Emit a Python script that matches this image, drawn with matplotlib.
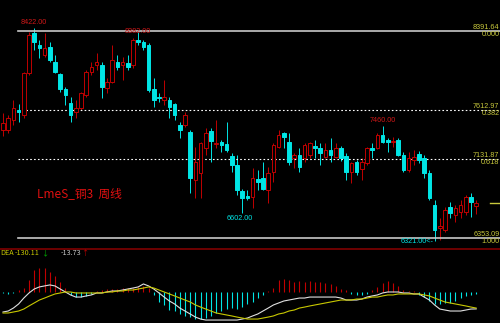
import matplotlib.pyplot as plt
from matplotlib.transforms import blended_transform_factory

plt.rcParams['font.family'] = ['Noto Sans CJK SC', 'DejaVu Sans']

# weekly OHLC, LME copper
opens = [7417, 7417, 7515, 7614, 7564, 7978, 8372, 8254, 8155, 8234,
         8086, 7968, 7820, 7682, 7594, 7633, 7761, 7988, 8057, 8057,
         7830, 7889, 8086, 8057, 8076, 8057, 8303, 8283, 8254, 7820,
         7742, 7712, 7712, 7673, 7466, 7466, 7397, 6924, 6993, 7239,
         7407, 7279, 7298, 7279, 7160, 7072, 6816, 6766, 6756, 6934,
         6944, 6825, 7003, 7249, 7387, 7298, 7141, 7170, 7141, 7170,
         7259, 7239, 7150, 7219, 7150, 7239, 7160, 7003, 7101, 7032,
         7091, 7239, 7239, 7367, 7318, 7298, 7318, 7170, 7022, 7121,
         7180, 7141, 6993, 6678, 6451, 6431, 6658, 6579, 6609, 6609,
         6756, 6668]
closes = [7485, 7535, 7633, 7594, 7978, 8352, 8283, 8224, 8224, 8106,
          7988, 7820, 7761, 7564, 7633, 7781, 7988, 8037, 8086, 7840,
          7889, 8106, 8037, 8086, 8037, 8303, 8283, 8234, 7810, 7712,
          7732, 7742, 7643, 7564, 7417, 7564, 6944, 7101, 7288, 7387,
          7308, 7288, 7269, 7219, 7072, 6825, 6747, 6747, 6944, 6904,
          6835, 6993, 7269, 7367, 7348, 7101, 7170, 7052, 7269, 7288,
          7239, 7190, 7219, 7170, 7239, 7141, 7003, 7091, 7003, 7101,
          7239, 7219, 7367, 7298, 7298, 7308, 7170, 7022, 7141, 7150,
          7121, 6993, 6747, 6431, 6471, 6628, 6599, 6648, 6678, 6756,
          6707, 6697]
highs = [7584, 7564, 7712, 7673, 7988, 8382, 8422, 8303, 8372, 8283,
         8155, 7978, 7840, 7742, 7712, 7791, 8007, 8086, 8175, 8086,
         7929, 8254, 8155, 8136, 8155, 8323, 8382, 8303, 8273, 7929,
         7781, 7909, 7742, 7682, 7495, 7594, 7417, 7249, 7298, 7436,
         7436, 7515, 7318, 7495, 7190, 7170, 6835, 6825, 7042, 7022,
         7101, 7052, 7288, 7417, 7397, 7387, 7190, 7239, 7288, 7298,
         7318, 7288, 7288, 7338, 7288, 7259, 7190, 7101, 7121, 7141,
         7249, 7288, 7387, 7460, 7338, 7348, 7338, 7200, 7200, 7219,
         7210, 7170, 7022, 6727, 6550, 6658, 6707, 6678, 6727, 6776,
         6796, 6727]
lows = [7357, 7387, 7466, 7495, 7535, 7958, 8204, 8126, 8136, 8086,
        7978, 7791, 7663, 7495, 7535, 7614, 7742, 7958, 8007, 7732,
        7781, 7879, 8007, 7909, 8007, 8027, 8254, 8204, 7791, 7643,
        7692, 7663, 7535, 7515, 7338, 7446, 6796, 6747, 6747, 7170,
        7101, 7239, 7200, 7200, 7003, 6776, 6602, 6727, 6648, 6825,
        6825, 6697, 6904, 7239, 7239, 7072, 7042, 7003, 7101, 7141,
        7141, 7072, 7141, 7101, 7141, 7111, 6924, 6894, 6973, 6924,
        7072, 7141, 7229, 7288, 7200, 7249, 7160, 7003, 7003, 7072,
        7091, 6944, 6727, 6321, 6330, 6412, 6550, 6510, 6550, 6579,
        6559, 6589]

dif = [-162, -154, -130, -97, -49, -8, 24, 41, 49, 57,
       49, 24, 0, -24, -41, -41, -32, -24, -8, -8,
       0, 8, 8, 16, 24, 32, 41, 65, 49, 24,
       -8, -41, -73, -97, -130, -154, -178, -203, -219, -227,
       -227, -227, -227, -227, -227, -227, -219, -211, -194, -178,
       -154, -130, -105, -89, -73, -65, -57, -49, -49, -41,
       -41, -41, -41, -41, -41, -49, -65, -65, -65, -57,
       -41, -32, -24, -8, 0, 0, 0, -8, -8, -16,
       -16, -41, -65, -105, -138, -146, -154, -154, -154, -146,
       -138, -137]
dea = [-170, -170, -162, -154, -138, -113, -89, -65, -49, -32,
       -16, -8, 0, 0, -8, -8, -8, -8, -8, -8,
       0, 0, 8, 8, 16, 16, 24, 32, 41, 32,
       16, 0, -16, -32, -49, -65, -81, -105, -122, -138,
       -154, -170, -178, -186, -194, -203, -211, -219, -219, -219,
       -211, -203, -194, -178, -170, -154, -146, -130, -122, -113,
       -105, -97, -89, -81, -73, -65, -65, -65, -57, -57,
       -49, -41, -41, -32, -24, -24, -16, -16, -16, -16,
       -16, -24, -32, -49, -65, -81, -89, -97, -105, -113,
       -122, -130.11]
macd = [-8, -16, -8, 16, 32, 97, 178, 194, 194, 162,
        130, 81, 32, -24, -41, -41, -32, -16, 8, 16,
        24, 24, 24, 32, 32, 32, 41, 49, 32, -24,
        -81, -105, -146, -154, -178, -194, -203, -219, -219, -211,
        -194, -170, -154, -138, -130, -138, -122, -97, -81, -49,
        -24, 8, 32, 97, 105, 97, 81, 89, 81, 89,
        81, 81, 73, 65, 49, 24, 16, -16, -24, -24,
        -16, 16, 41, 73, 89, 73, 49, 16, 8, 8,
        -24, -41, -73, -97, -97, -89, -89, -73, -49, -32,
        -24, -13.73]

fib_prices = [8391.64, 7612.97, 7131.87, 6353.09]
fib_ratios = ['0.000', '0.382', '0.618', '1.000']
hi_marks = [(6, '8422.00', 1.5), (26, '8382.00', -2.5), (73, '7460.00', 1.0)]

RED = '#c00000'
CYAN = '#00e5e5'
YEL = '#c8c83c'
NUM = ['Liberation Sans', 'DejaVu Sans']

fig = plt.figure(figsize=(5, 3.23), dpi=100, facecolor='black')
ax = fig.add_axes([0, 77 / 323, 1, 246 / 323], facecolor='black')
ax2 = fig.add_axes([0, 0, 1, 75 / 323], facecolor='black')

x = [3 + 5.2 * i for i in range(len(opens))]
xl = (0, 500)

# candles: red hollow = up, cyan filled = down
for xi, o, c, h, l in zip(x, opens, closes, highs, lows):
    up = c >= o
    col = RED if up else CYAN
    ax.vlines(xi, l, max(o, c), color=col, lw=0.7)
    ax.vlines(xi, min(o, c), h, color=col, lw=0.7)
    ax.bar(xi, max(abs(c - o), 3), bottom=min(o, c), width=3.6,
           facecolor='black' if up else CYAN, edgecolor=col, lw=0.7, zorder=3)

# golden section lines
tr = blended_transform_factory(ax.transAxes, ax.transData)
for p, r in zip(fib_prices, fib_ratios):
    solid = r in ('0.000', '1.000')
    ax.plot([18, 500], [p, p], color='#c8c8c8' if solid else 'white',
            lw=1.2 if solid else 0.8, ls='-' if solid else (0, (1.5, 2)), zorder=2)
    ax.text(0.999, p, f'{p:.2f}', transform=tr, color=YEL, fontsize=5.2,
            va='bottom', ha='right', family=NUM)
    ax.text(0.999, p, r, transform=tr, color=YEL, fontsize=5.2,
            va='top', ha='right', family=NUM)

for i, t, dy in hi_marks:
    ax.annotate(t, (x[i], highs[i]), xytext=(0, dy), textcoords='offset points',
                color='#d01818', fontsize=5.2, ha='center', va='bottom', family=NUM)
ax.annotate('6602.00', (x[46], lows[46]), xytext=(-2, -2), textcoords='offset points',
            color=CYAN, fontsize=5.2, ha='center', va='top', family=NUM)
ax.annotate('6321.00<-', (x[83], lows[83]), xytext=(-1, 0), textcoords='offset points',
            color=CYAN, fontsize=5.2, ha='right', va='center', family=NUM)

ax.plot([490, 500], [closes[-1], closes[-1]], color=YEL, lw=1)
ax.text(37, 6786, 'LmeS_铜3  周线', color='#e01010', fontsize=8.5, va='center')

ax.set_xlim(*xl)
ax.set_ylim(6274, 8697)
ax.set_axis_off()

# MACD panel
ax2.axhline(356 - 8, color='#800000', lw=1.2)
for xi, m in zip(x, macd):
    ax2.vlines(xi, 0, m, color=RED if m > 0 else CYAN, lw=0.8)
ax2.plot(x, dif, color='#e0e0e0', lw=0.8)
ax2.plot(x, dea, color='#c8c800', lw=0.8)
ax2.set_xlim(*xl)
ax2.set_ylim(-251, 356)
ax2.set_axis_off()

lab = [(0, 'DEA', '#c8c800'), (15, '-130.11', '#c8c800'), (41, '↓', '#00b000'),
       (61, '-13.73', '#c8c8c8'), (81, '↑', '#c00000')]
for lx, t, c in lab:
    ax2.text(lx, 0.93, t, transform=blended_transform_factory(ax2.transData, ax2.transAxes),
             color=c, fontsize=5.2, va='center', ha='left')

fig.savefig('out.png', dpi=100, facecolor='black')
